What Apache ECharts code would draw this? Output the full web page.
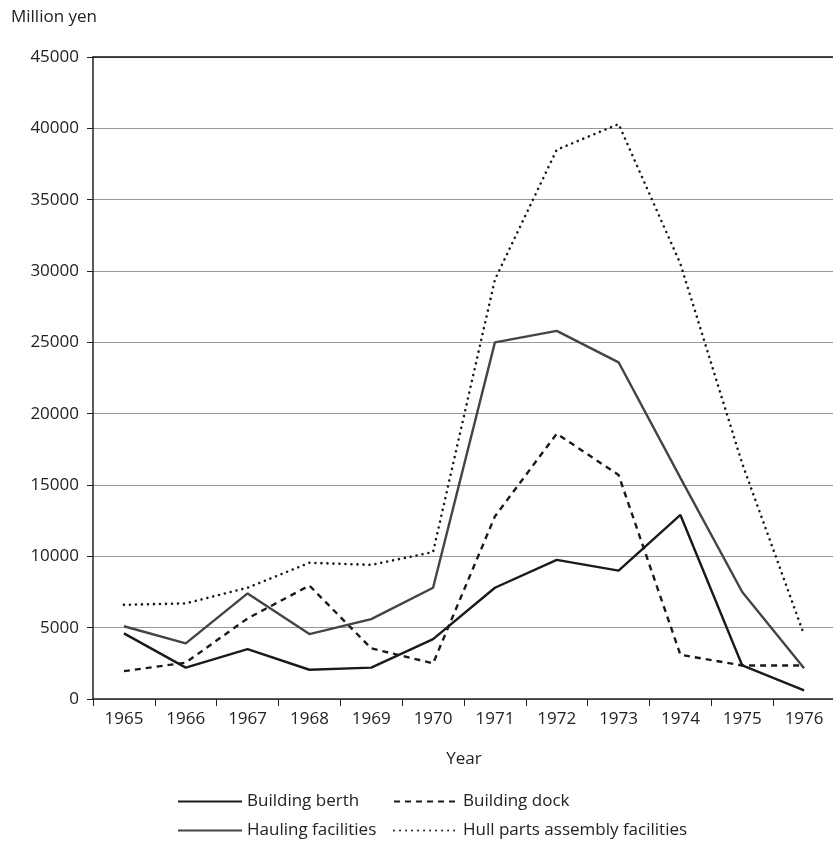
<!DOCTYPE html>
<html>
<head>
<meta charset="utf-8">
<script src="https://cdn.jsdelivr.net/npm/echarts@6/dist/echarts.min.js"></script>
<style>
  html, body { margin: 0; padding: 0; background: #fff; }
  #chart { width: 833px; height: 842px; }
</style>
</head>
<body>
<div id="chart"></div>
<script>
  // data (million yen)
  const years = ['1965', '1966', '1967', '1968', '1969', '1970', '1971', '1972', '1973', '1974', '1975', '1976'];
  const buildingBerth = [4600, 2200, 3500, 2050, 2200, 4200, 7800, 9750, 9000, 12900, 2350, 600];
  const buildingDock = [1950, 2550, 5650, 7950, 3550, 2500, 12800, 18600, 15700, 3100, 2350, 2350];
  const haulingFacilities = [5100, 3900, 7400, 4550, 5600, 7800, 25000, 25800, 23600, 15500, 7500, 2150];
  const hullParts = [6600, 6700, 7800, 9550, 9400, 10300, 29400, 38500, 40300, 30500, 16500, 4500];

  const font = '"Open Sans", "Noto Sans", sans-serif';
  const chart = echarts.init(document.getElementById('chart'));

  // one legend per item so the two columns line up like the original
  function legendAt(name, left, top) {
    return {
      data: [name],
      left: left,
      top: top,
      itemWidth: 64,
      itemHeight: 14,
      itemGap: 8,
      selectedMode: false,
      itemStyle: { opacity: 0, borderWidth: 0 },
      textStyle: { fontFamily: font, fontSize: 17, color: '#222' }
    };
  }

  const option = {
    animation: false,
    backgroundColor: '#fff',
    title: {
      text: 'Million yen',
      left: 6,
      top: 4,
      textStyle: { fontFamily: font, fontSize: 17, fontWeight: 'normal', color: '#222' }
    },
    legend: [
      legendAt('Building berth', 172, 788),
      legendAt('Building dock', 388, 788),
      legendAt('Hauling facilities', 172, 817),
      legendAt('Hull parts assembly facilities', 388, 817)
    ],
    grid: { left: 93, top: 57, width: 742, height: 642, outerBoundsMode: 'none' },
    xAxis: [{
      type: 'category',
      data: years,
      boundaryGap: true,
      name: 'Year',
      nameLocation: 'middle',
      nameGap: 52,
      nameTextStyle: { fontFamily: font, fontSize: 17, color: '#222' },
      axisLine: { lineStyle: { color: '#222', width: 1.5 } },
      axisTick: { show: true, length: 7, lineStyle: { color: '#222' } },
      axisLabel: { fontFamily: font, fontSize: 17, color: '#222', margin: 12 }
    }, {
      // top frame line
      type: 'category',
      data: years,
      position: 'top',
      axisLine: { show: true, lineStyle: { color: '#111', width: 1.5 } },
      axisTick: { show: false },
      axisLabel: { show: false }
    }],
    yAxis: {
      type: 'value',
      min: 0,
      max: 45000,
      interval: 5000,
      axisLine: { show: true, lineStyle: { color: '#222', width: 1.5 } },
      axisTick: { show: true, length: 6, lineStyle: { color: '#222' } },
      axisLabel: { fontFamily: font, fontSize: 17, color: '#222', margin: 14, formatter: v => String(v) },
      splitLine: { show: true, lineStyle: { color: '#999', width: 1.2 } }
    },
    series: [{
      name: 'Building berth',
      type: 'line',
      data: buildingBerth,
      symbol: 'none',
      lineStyle: { color: '#1a1a1a', width: 2.4, type: 'solid' },
      itemStyle: { color: '#1a1a1a' }
    }, {
      name: 'Building dock',
      type: 'line',
      data: buildingDock,
      symbol: 'none',
      lineStyle: { color: '#1a1a1a', width: 2.4, type: [6, 5] },
      itemStyle: { color: '#1a1a1a' }
    }, {
      name: 'Hauling facilities',
      type: 'line',
      data: haulingFacilities,
      symbol: 'none',
      lineStyle: { color: '#444', width: 2.4, type: 'solid' },
      itemStyle: { color: '#444' }
    }, {
      name: 'Hull parts assembly facilities',
      type: 'line',
      data: hullParts,
      symbol: 'none',
      lineStyle: { color: '#1a1a1a', width: 2.6, type: [0.01, 6], cap: 'round' },
      itemStyle: { color: '#1a1a1a' }
    }]
  };

  chart.setOption(option);
</script>
</body>
</html>
